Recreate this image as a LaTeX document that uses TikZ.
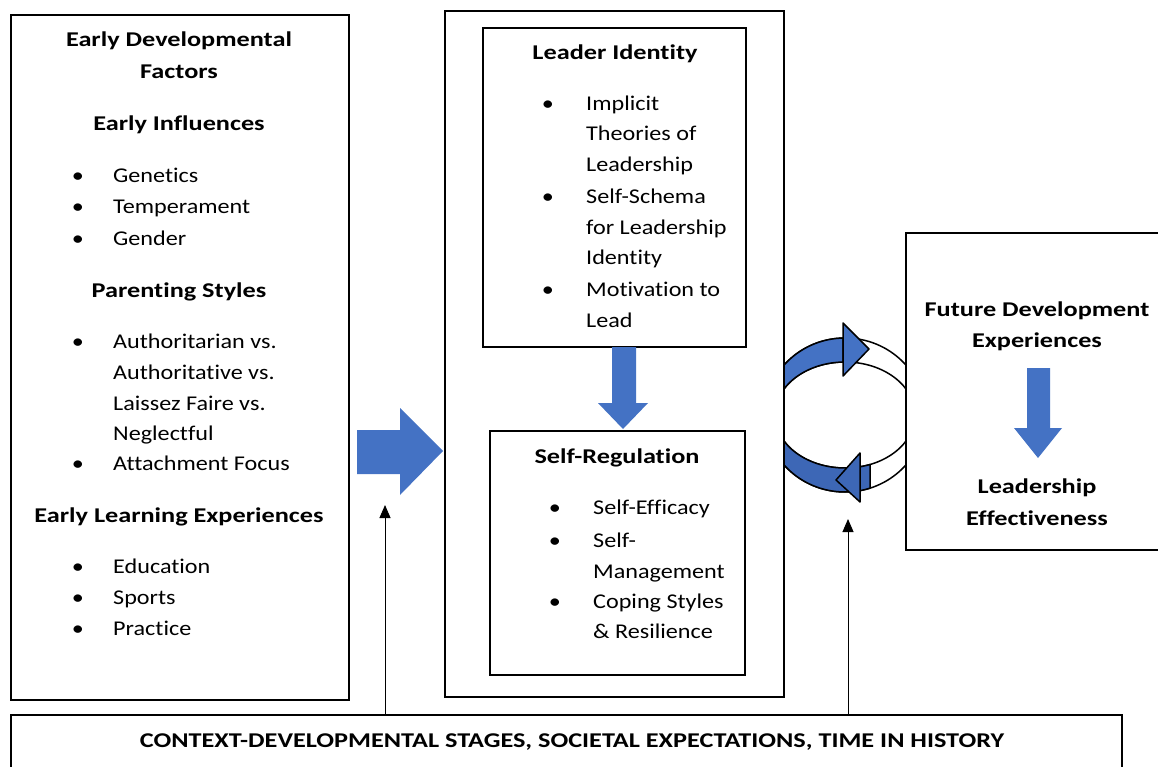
\documentclass[tikz,border=0pt]{standalone}
\usepackage{fontspec}
\setmainfont{Carlito}[FakeStretch=1.15, Ligatures=NoCommon, BoldFeatures={FakeStretch=1.25}]
\usetikzlibrary{arrows.meta}
\definecolor{officeblue}{HTML}{4472C4}
\definecolor{officeblueD}{HTML}{3D67B6}

\begin{document}
\begin{tikzpicture}[x=1pt,y=-1pt,
  box/.style={draw=black, line width=1.2pt, fill=white, inner sep=0pt},
  txt/.style={anchor=base west, inner sep=0pt, font=\fontsize{21}{25}\selectfont},
  ttl/.style={anchor=base, inner sep=0pt, font=\fontsize{21}{25}\selectfont\bfseries},
  dot/.style={anchor=base, inner sep=0pt, font=\fontsize{21}{25}\selectfont},
  blockarrow/.style={fill=officeblue, draw=none},
  ringline/.style={draw=black, line width=1.5pt, line join=round},
  ctxarrow/.style={line width=1pt, -{Triangle[length=13pt,width=11pt]}}
]
\useasboundingbox (0,0) rectangle (1158,767);

% ---- cycle of two curved arrows (drawn first, boxes cover its sides)
\draw[ringline] (845,415) ellipse [x radius=80, y radius=77];
\draw[ringline] (845,415) ellipse [x radius=70, y radius=53];
\draw[ringline, fill=officeblue]
  plot[domain=180:268.57, samples=40, variable=\t] ({845+80*cos(\t)},{415+77*sin(\t)})
  -- plot[domain=268.36:180, samples=40, variable=\t] ({845+70*cos(\t)},{415+53*sin(\t)})
  -- cycle;
\draw[ringline, fill=officeblue] (843,323) -- (869,349) -- (843,376) -- cycle;
\draw[ringline, fill=officeblueD]
  plot[domain=71.79:180, samples=40, variable=\t] ({845+80*cos(\t)},{415+77*sin(\t)})
  -- plot[domain=180:69.08, samples=40, variable=\t] ({845+70*cos(\t)},{415+53*sin(\t)})
  -- cycle;
\draw[ringline, fill=officeblueD] (860,453) -- (836,480) -- (860,502) -- cycle;

% ---- boxes
\node[box, minimum width=338pt, minimum height=685pt] (early) at (180,357.5) {};
\node[box, minimum width=339pt, minimum height=686pt] (core) at (614.5,354) {};
\node[box, minimum width=263pt, minimum height=319pt] (leader) at (614.5,187.5) {};
\node[box, minimum width=255pt, minimum height=244pt] (selfreg) at (617.5,553) {};
\node[box, minimum width=264pt, minimum height=317pt] (future) at (1038,391.5) {};
\node[box, minimum width=1111pt, minimum height=75pt] (ctx) at (566.5,752.5) {};

% ---- early developmental factors
\node[ttl] (t1a) at (179,47) {Early Developmental};
\node[ttl] (t1b) at (179,79) {Factors};
\node[ttl] (t2) at (179,131) {Early Influences};
\node[dot] (b1) at (78,183) {•};
\node[txt] (l1) at (113,183) {Genetics};
\node[dot] (b2) at (78,214) {•};
\node[txt] (l2) at (113,214) {Temperament};
\node[dot] (b3) at (78,245) {•};
\node[txt] (l3) at (113,245) {Gender};
\node[ttl] (t3) at (179,297) {Parenting Styles};
\node[dot] (b4) at (78,348) {•};
\node[txt] (l4a) at (113,348) {Authoritarian vs.};
\node[txt] (l4b) at (113,379) {Authoritative vs.};
\node[txt] (l4c) at (113,410) {Laissez Faire vs.};
\node[txt] (l4d) at (113,440) {Neglectful};
\node[dot] (b5) at (78,470) {•};
\node[txt] (l5) at (113,470) {Attachment Focus};
\node[ttl] (t4) at (179,522) {Early Learning Experiences};
\node[dot] (b6) at (78,573) {•};
\node[txt] (l6) at (113,573) {Education};
\node[dot] (b7) at (78,604) {•};
\node[txt] (l7) at (113,604) {Sports};
\node[dot] (b8) at (78,635) {•};
\node[txt] (l8) at (113,635) {Practice};

% ---- leader identity
\node[ttl] (t5) at (615,60) {Leader Identity};
\node[dot] (b9) at (548,111) {•};
\node[txt] (m1a) at (586,111) {Implicit};
\node[txt] (m1b) at (586,141) {Theories of};
\node[txt] (m1c) at (586,172) {Leadership};
\node[dot] (b10) at (548,204) {•};
\node[txt] (m2a) at (586,204) {Self-Schema};
\node[txt] (m2b) at (586,235) {for Leadership};
\node[txt] (m2c) at (586,265) {Identity};
\node[dot] (b11) at (548,296) {•};
\node[txt] (m3a) at (586,296) {Motivation to};
\node[txt] (m3b) at (586,327) {Lead};

% ---- self-regulation
\node[ttl] (t6) at (617,463) {Self-Regulation};
\node[dot] (b12) at (555,514) {•};
\node[txt] (s1) at (593,514) {Self-Efficacy};
\node[dot] (b13) at (555,547) {•};
\node[txt] (s2a) at (593,547) {Self-};
\node[txt] (s2b) at (593,578) {Management};
\node[dot] (b14) at (555,608) {•};
\node[txt] (s3a) at (593,608) {Coping Styles};
\node[txt] (s3b) at (593,638) {\& Resilience};

% ---- future development
\node[ttl] (t7a) at (1037,316) {Future Development};
\node[ttl] (t7b) at (1037,347) {Experiences};
\node[ttl] (t8a) at (1037,493) {Leadership};
\node[ttl] (t8b) at (1037,525) {Effectiveness};

% ---- context
\node[ttl] (t9) at (572,747) {CONTEXT-DEVELOPMENTAL STAGES, SOCIETAL EXPECTATIONS, TIME IN HISTORY};

% ---- block arrows
\fill[blockarrow] (357,430) -- (400,430) -- (400,408) -- (443,451) -- (400,495)
  -- (400,474) -- (357,474) -- cycle;
\fill[blockarrow] (612,347) -- (636,347) -- (636,403) -- (648,403) -- (623,429)
  -- (598,403) -- (612,403) -- cycle;
\fill[blockarrow] (1027,368) -- (1050,368) -- (1050,428) -- (1062,428) -- (1038,458)
  -- (1014,428) -- (1027,428) -- cycle;

% ---- context arrows
\coordinate (tipA) at (385,505);
\coordinate (tipB) at (848,519);
\draw[ctxarrow] (tipA |- ctx.north) -- (tipA);
\draw[ctxarrow] (tipB |- ctx.north) -- (tipB);
\end{tikzpicture}
\end{document}
